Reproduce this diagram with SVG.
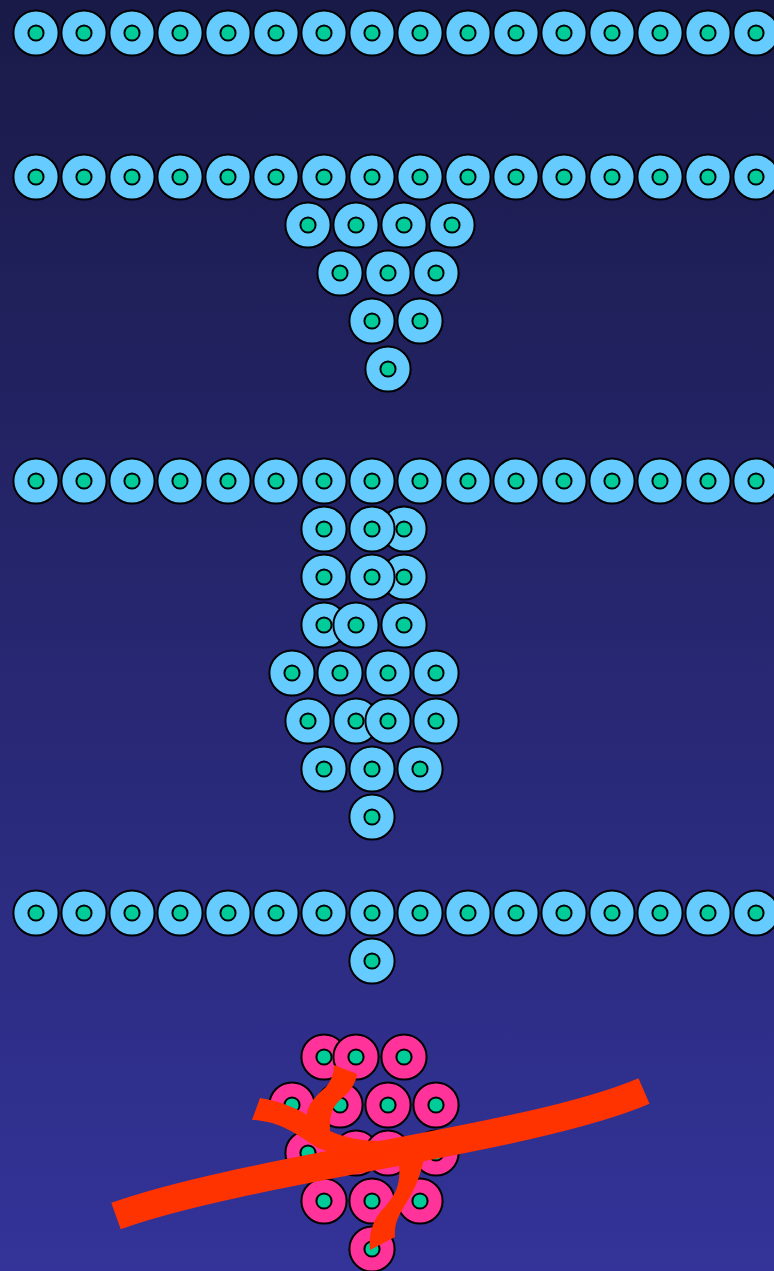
<svg xmlns="http://www.w3.org/2000/svg" xmlns:xlink="http://www.w3.org/1999/xlink" width="774" height="1271" viewBox="0 0 774 1271">
<style>
.o{stroke:#000;stroke-width:2}
.b{fill:#66ccff}
.p{fill:#ff3399}
.i{fill:#00cc99;stroke:#000;stroke-width:2}
.red{fill:#ff3300}
.band{fill:none;stroke:#ff3300;stroke-width:28;stroke-linecap:butt}
</style>
<defs>
<linearGradient id="bg" x1="0" y1="0" x2="0" y2="1">
<stop offset="0" stop-color="#1a1a48"/>
<stop offset="1" stop-color="#333399"/>
</linearGradient>
<g id="cb"><circle class="o b" r="22.6"/><circle class="i" r="7.6"/></g>
<g id="cp"><circle class="o p" r="22.6"/><circle class="i" r="7.6"/></g>
</defs>
<rect width="774" height="1271" fill="url(#bg)"/>

<g id="row1">
<g id="r1c1"><use href="#cb" x="36" y="33"/></g>
<g id="r1c2"><use href="#cb" x="84" y="33"/></g>
<g id="r1c3"><use href="#cb" x="132" y="33"/></g>
<g id="r1c4"><use href="#cb" x="180" y="33"/></g>
<g id="r1c5"><use href="#cb" x="228" y="33"/></g>
<g id="r1c6"><use href="#cb" x="276" y="33"/></g>
<g id="r1c7"><use href="#cb" x="324" y="33"/></g>
<g id="r1c8"><use href="#cb" x="372" y="33"/></g>
<g id="r1c9"><use href="#cb" x="420" y="33"/></g>
<g id="r1c10"><use href="#cb" x="468" y="33"/></g>
<g id="r1c11"><use href="#cb" x="516" y="33"/></g>
<g id="r1c12"><use href="#cb" x="564" y="33"/></g>
<g id="r1c13"><use href="#cb" x="612" y="33"/></g>
<g id="r1c14"><use href="#cb" x="660" y="33"/></g>
<g id="r1c15"><use href="#cb" x="708" y="33"/></g>
<g id="r1c16"><use href="#cb" x="756" y="33"/></g>
</g>

<g id="row2">
<g id="r2c1"><use href="#cb" x="36" y="177"/></g>
<g id="r2c2"><use href="#cb" x="84" y="177"/></g>
<g id="r2c3"><use href="#cb" x="132" y="177"/></g>
<g id="r2c4"><use href="#cb" x="180" y="177"/></g>
<g id="r2c5"><use href="#cb" x="228" y="177"/></g>
<g id="r2c6"><use href="#cb" x="276" y="177"/></g>
<g id="r2c7"><use href="#cb" x="324" y="177"/></g>
<g id="r2c8"><use href="#cb" x="372" y="177"/></g>
<g id="r2c9"><use href="#cb" x="420" y="177"/></g>
<g id="r2c10"><use href="#cb" x="468" y="177"/></g>
<g id="r2c11"><use href="#cb" x="516" y="177"/></g>
<g id="r2c12"><use href="#cb" x="564" y="177"/></g>
<g id="r2c13"><use href="#cb" x="612" y="177"/></g>
<g id="r2c14"><use href="#cb" x="660" y="177"/></g>
<g id="r2c15"><use href="#cb" x="708" y="177"/></g>
<g id="r2c16"><use href="#cb" x="756" y="177"/></g>
</g>

<g id="cluster2">
<g id="k2a1"><use href="#cb" x="308" y="225"/></g>
<g id="k2a2"><use href="#cb" x="356" y="225"/></g>
<g id="k2a3"><use href="#cb" x="404" y="225"/></g>
<g id="k2a4"><use href="#cb" x="452" y="225"/></g>
<g id="k2b1"><use href="#cb" x="340" y="273"/></g>
<g id="k2b2"><use href="#cb" x="388" y="273"/></g>
<g id="k2b3"><use href="#cb" x="436" y="273"/></g>
<g id="k2c1"><use href="#cb" x="372" y="321"/></g>
<g id="k2c2"><use href="#cb" x="420" y="321"/></g>
<g id="k2d1"><use href="#cb" x="388" y="369"/></g>
</g>

<g id="row3">
<g id="r3c1"><use href="#cb" x="36" y="481"/></g>
<g id="r3c2"><use href="#cb" x="84" y="481"/></g>
<g id="r3c3"><use href="#cb" x="132" y="481"/></g>
<g id="r3c4"><use href="#cb" x="180" y="481"/></g>
<g id="r3c5"><use href="#cb" x="228" y="481"/></g>
<g id="r3c6"><use href="#cb" x="276" y="481"/></g>
<g id="r3c7"><use href="#cb" x="324" y="481"/></g>
<g id="r3c8"><use href="#cb" x="372" y="481"/></g>
<g id="r3c9"><use href="#cb" x="420" y="481"/></g>
<g id="r3c10"><use href="#cb" x="468" y="481"/></g>
<g id="r3c11"><use href="#cb" x="516" y="481"/></g>
<g id="r3c12"><use href="#cb" x="564" y="481"/></g>
<g id="r3c13"><use href="#cb" x="612" y="481"/></g>
<g id="r3c14"><use href="#cb" x="660" y="481"/></g>
<g id="r3c15"><use href="#cb" x="708" y="481"/></g>
<g id="r3c16"><use href="#cb" x="756" y="481"/></g>
</g>

<g id="cluster3">
<g id="k3a3"><use href="#cb" x="404" y="529"/></g>
<g id="k3a1"><use href="#cb" x="324" y="529"/></g>
<g id="k3a2"><use href="#cb" x="372" y="529"/></g>
<g id="k3b3"><use href="#cb" x="404" y="577"/></g>
<g id="k3b1"><use href="#cb" x="324" y="577"/></g>
<g id="k3b2"><use href="#cb" x="372" y="577"/></g>
<g id="k3c1"><use href="#cb" x="324" y="625"/></g>
<g id="k3c2"><use href="#cb" x="356" y="625"/></g>
<g id="k3c3"><use href="#cb" x="404" y="625"/></g>
<g id="k3d1"><use href="#cb" x="292" y="673"/></g>
<g id="k3d2"><use href="#cb" x="340" y="673"/></g>
<g id="k3d3"><use href="#cb" x="388" y="673"/></g>
<g id="k3d4"><use href="#cb" x="436" y="673"/></g>
<g id="k3e1"><use href="#cb" x="308" y="721"/></g>
<g id="k3e2"><use href="#cb" x="356" y="721"/></g>
<g id="k3e3"><use href="#cb" x="388" y="721"/></g>
<g id="k3e4"><use href="#cb" x="436" y="721"/></g>
<g id="k3f1"><use href="#cb" x="324" y="769"/></g>
<g id="k3f2"><use href="#cb" x="372" y="769"/></g>
<g id="k3f3"><use href="#cb" x="420" y="769"/></g>
<g id="k3g1"><use href="#cb" x="372" y="817"/></g>
</g>

<g id="row4">
<g id="r4c1"><use href="#cb" x="36" y="913"/></g>
<g id="r4c2"><use href="#cb" x="84" y="913"/></g>
<g id="r4c3"><use href="#cb" x="132" y="913"/></g>
<g id="r4c4"><use href="#cb" x="180" y="913"/></g>
<g id="r4c5"><use href="#cb" x="228" y="913"/></g>
<g id="r4c6"><use href="#cb" x="276" y="913"/></g>
<g id="r4c7"><use href="#cb" x="324" y="913"/></g>
<g id="r4c8"><use href="#cb" x="372" y="913"/></g>
<g id="r4c9"><use href="#cb" x="420" y="913"/></g>
<g id="r4c10"><use href="#cb" x="468" y="913"/></g>
<g id="r4c11"><use href="#cb" x="516" y="913"/></g>
<g id="r4c12"><use href="#cb" x="564" y="913"/></g>
<g id="r4c13"><use href="#cb" x="612" y="913"/></g>
<g id="r4c14"><use href="#cb" x="660" y="913"/></g>
<g id="r4c15"><use href="#cb" x="708" y="913"/></g>
<g id="r4c16"><use href="#cb" x="756" y="913"/></g>
<g id="k4a1"><use href="#cb" x="372" y="961"/></g>
</g>

<g id="cluster5">
<g id="k5a1"><use href="#cp" x="324" y="1057"/></g>
<g id="k5a2"><use href="#cp" x="356" y="1057"/></g>
<g id="k5a3"><use href="#cp" x="404" y="1057"/></g>
<g id="k5b1"><use href="#cp" x="292" y="1105"/></g>
<g id="k5b2"><use href="#cp" x="340" y="1105"/></g>
<g id="k5b3"><use href="#cp" x="388" y="1105"/></g>
<g id="k5b4"><use href="#cp" x="436" y="1105"/></g>
<g id="k5c1"><use href="#cp" x="308" y="1153"/></g>
<g id="k5c2"><use href="#cp" x="356" y="1153"/></g>
<g id="k5c3"><use href="#cp" x="388" y="1153"/></g>
<g id="k5c4"><use href="#cp" x="436" y="1153"/></g>
<g id="k5d1"><use href="#cp" x="324" y="1201"/></g>
<g id="k5d2"><use href="#cp" x="372" y="1201"/></g>
<g id="k5d3"><use href="#cp" x="420" y="1201"/></g>
<g id="k5e1"><use href="#cp" x="372" y="1249"/></g>
</g>

<g id="strokes">
<path class="band" d="M116,1216 C250,1168 530,1140 644,1091"/>
<path class="red" d="M260,1098 C278,1101 295,1107 307,1115 C307,1104 318,1094 326,1087 C332,1080 334,1072 334,1065 L357,1074 C356,1082 351,1091 342,1098 C333,1106 329,1114 330,1131 C345,1138 365,1141 378,1141 L400,1150 L424,1158 C421,1175 415,1188 408,1200 C398,1216 394,1224 395,1237 L370,1250 C368,1232 375,1216 385,1207 C395,1195 401,1185 399,1165 L380,1160 L330,1152 L318,1148 C305,1140 290,1128 272,1123 C262,1121 256,1120 252,1120 Z"/>
</g>
</svg>
